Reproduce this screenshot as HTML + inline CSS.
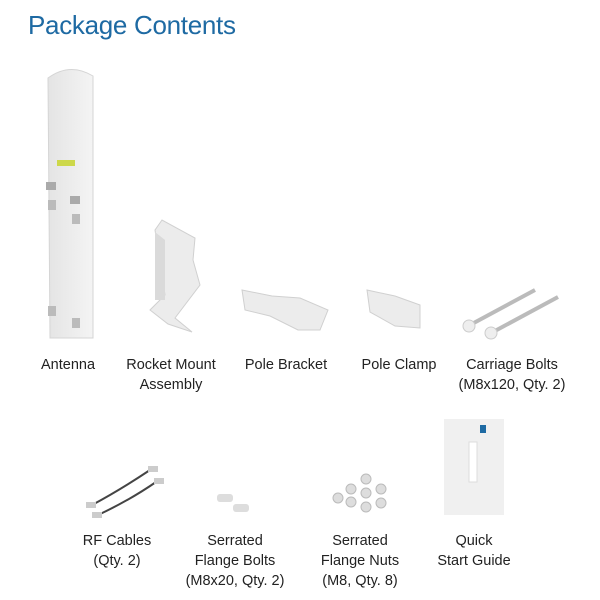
<!DOCTYPE html>
<html><head><meta charset="utf-8"><style>
html,body{margin:0;padding:0;background:#fff;}
body{width:600px;height:600px;position:relative;overflow:hidden;font-family:"Liberation Sans",sans-serif;}
h1{position:absolute;left:28px;top:10px;margin:0;font-size:26px;font-weight:normal;color:#1e6aa3;letter-spacing:-0.3px;}
.l{position:absolute;font-size:14.5px;color:#222;text-align:center;line-height:20px;white-space:nowrap;transform:translateX(-50%);}
svg{position:absolute;left:0;top:0;}
</style></head><body>
<h1>Package Contents</h1>
<svg width="600" height="600">
<defs><linearGradient id="g" x1="0" x2="1"><stop offset="0" stop-color="#e4e4e4"/><stop offset="1" stop-color="#f4f4f4"/></linearGradient></defs>
<path d="M48 78 Q70 62 93 76 L93 338 L50 338 Z" fill="url(#g)" stroke="#d5d5d5"/>
<rect x="57" y="160" width="18" height="6" fill="#cdd84a"/>
<rect x="46" y="182" width="10" height="8" fill="#aaa"/><rect x="70" y="196" width="10" height="8" fill="#aaa"/>
<rect x="48" y="200" width="8" height="10" fill="#bbb"/><rect x="72" y="214" width="8" height="10" fill="#bbb"/>
<rect x="48" y="306" width="8" height="10" fill="#bbb"/><rect x="72" y="318" width="8" height="10" fill="#bbb"/>
<path d="M155 230 L162 220 L195 238 L193 260 L200 285 L175 318 L192 332 L168 324 L150 310 L165 295 Z" fill="#ececec" stroke="#d0d0d0"/>
<path d="M155 232 L165 240 L165 300 L155 300 Z" fill="#dadada"/>
<path d="M242 290 L272 296 L300 298 L328 310 L320 330 L298 330 L270 316 L245 310 Z" fill="#ececec" stroke="#d0d0d0"/>
<path d="M367 290 L395 296 L420 305 L420 328 L395 326 L370 312 Z" fill="#ececec" stroke="#d0d0d0"/>
<line x1="470" y1="325" x2="535" y2="290" stroke="#bbb" stroke-width="4"/>
<line x1="493" y1="332" x2="558" y2="297" stroke="#bbb" stroke-width="4"/>
<circle cx="469" cy="326" r="6" fill="#eee" stroke="#ccc"/><circle cx="491" cy="333" r="6" fill="#eee" stroke="#ccc"/>
<path d="M92 505 Q120 490 150 470" stroke="#444" stroke-width="2" fill="none"/>
<path d="M98 515 Q130 500 156 482" stroke="#444" stroke-width="2" fill="none"/>
<rect x="86" y="502" width="10" height="6" fill="#ccc"/><rect x="92" y="512" width="10" height="6" fill="#ccc"/>
<rect x="148" y="466" width="10" height="6" fill="#ccc"/><rect x="154" y="478" width="10" height="6" fill="#ccc"/>
<rect x="217" y="494" width="16" height="8" rx="3" fill="#ddd"/><rect x="233" y="504" width="16" height="8" rx="3" fill="#ddd"/>
<g fill="#ddd" stroke="#bbb">
<circle cx="366" cy="479" r="5"/><circle cx="351" cy="489" r="5"/><circle cx="366" cy="493" r="5"/><circle cx="381" cy="489" r="5"/>
<circle cx="338" cy="498" r="5"/><circle cx="351" cy="502" r="5"/><circle cx="366" cy="507" r="5"/><circle cx="381" cy="503" r="5"/>
</g>
<rect x="444" y="419" width="60" height="96" fill="#f0f0f0"/>
<rect x="469" y="442" width="8" height="40" fill="#fff" stroke="#ddd"/>
<rect x="480" y="425" width="6" height="8" fill="#1e6aa3"/>
</svg>
<div class="l" style="left:68px;top:355px">Antenna</div>
<div class="l" style="left:171px;top:355px">Rocket Mount<br>Assembly</div>
<div class="l" style="left:286px;top:355px">Pole Bracket</div>
<div class="l" style="left:399px;top:355px">Pole Clamp</div>
<div class="l" style="left:512px;top:355px">Carriage Bolts<br>(M8x120, Qty. 2)</div>
<div class="l" style="left:117px;top:531px">RF Cables<br>(Qty. 2)</div>
<div class="l" style="left:235px;top:531px">Serrated<br>Flange Bolts<br>(M8x20, Qty. 2)</div>
<div class="l" style="left:360px;top:531px">Serrated<br>Flange Nuts<br>(M8, Qty. 8)</div>
<div class="l" style="left:474px;top:531px">Quick<br>Start Guide</div>
</body></html>
